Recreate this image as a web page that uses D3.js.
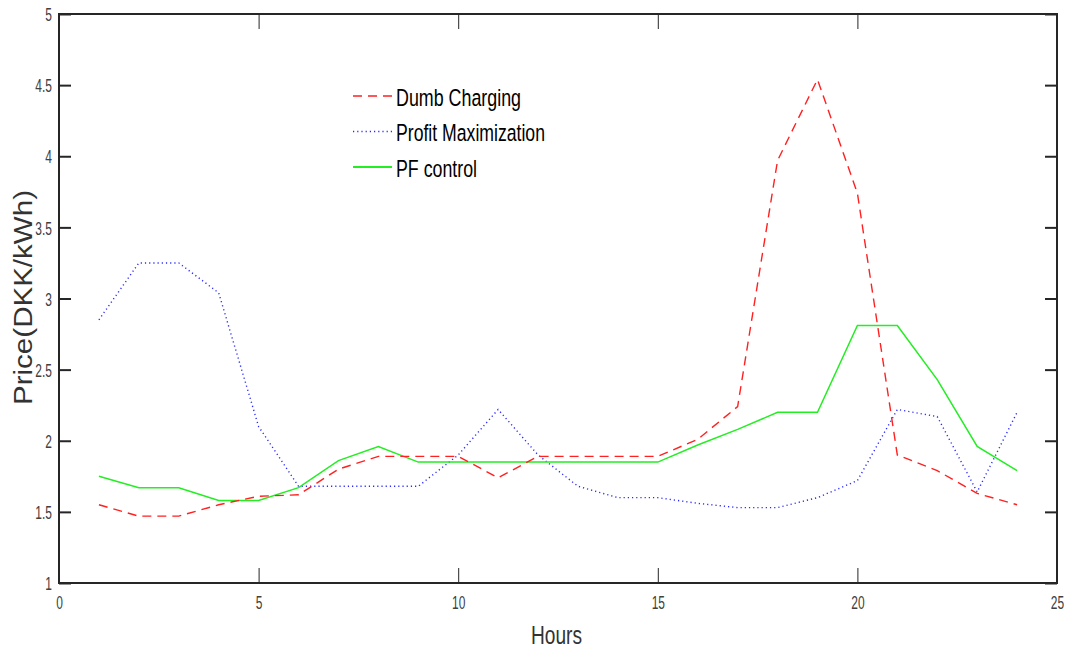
<!DOCTYPE html>
<html>
<head>
<meta charset="utf-8">
<script src="https://cdn.jsdelivr.net/npm/d3@7"></script>
<style>
  body { margin: 0; background: #fff; }
  svg { display: block; font-family: "Liberation Sans", Arial, sans-serif; }
</style>
</head>
<body>
<svg width="1068" height="651"></svg>
<script>
var hours = [1, 2, 3, 4, 5, 6, 7, 8, 9, 10, 11, 12, 13, 14, 15, 16, 17, 18, 19, 20, 21, 22, 23, 24];
var dumb = [1.55, 1.47, 1.47, 1.55, 1.61, 1.62, 1.80, 1.89, 1.89, 1.89, 1.74, 1.89, 1.89, 1.89, 1.89, 2.01, 2.24, 3.97, 4.54, 3.74, 1.90, 1.79, 1.63, 1.55];
var profit = [2.85, 3.25, 3.25, 3.04, 2.10, 1.68, 1.68, 1.68, 1.68, 1.90, 2.22, 1.90, 1.68, 1.60, 1.60, 1.56, 1.53, 1.53, 1.60, 1.72, 2.22, 2.17, 1.64, 2.20];
var pf = [1.75, 1.67, 1.67, 1.58, 1.58, 1.67, 1.86, 1.96, 1.85, 1.85, 1.85, 1.85, 1.85, 1.85, 1.85, 1.97, 2.08, 2.20, 2.20, 2.81, 2.81, 2.43, 1.96, 1.79];
var xTicks = [0, 5, 10, 15, 20, 25];
var yTicks = [1, 1.5, 2, 2.5, 3, 3.5, 4, 4.5, 5];
var seriesNames = ["Dumb Charging", "Profit Maximization", "PF control"];

var svg = d3.select("svg");
var plotL = 59, plotR = 1057, plotT = 14, plotB = 583;

var x = d3.scaleLinear().domain([0, 25]).range([plotL, plotR]);
var y = d3.scaleLinear().domain([1, 5]).range([plotB, plotT]);

// squeeze text horizontally, the source figure uses a narrow face
function squeeze(sel, k) {
  sel.each(function() {
    var w = this.getComputedTextLength();
    d3.select(this).attr("textLength", w * k).attr("lengthAdjust", "spacingAndGlyphs");
  });
}

// ---- axes ----
var axisColor = "#262626";

var xb = svg.append("g").attr("transform", "translate(0," + plotB + ")")
  .call(d3.axisBottom(x).tickValues(xTicks).tickSize(-15).tickPadding(0).tickFormat(d3.format("d")));
var xt = svg.append("g").attr("transform", "translate(0," + plotT + ")")
  .call(d3.axisTop(x).tickValues(xTicks).tickSize(-15).tickFormat(""));
var yl = svg.append("g").attr("transform", "translate(" + plotL + ",0)")
  .call(d3.axisLeft(y).tickValues(yTicks).tickSize(-12).tickFormat(d3.format("")));
var yr = svg.append("g").attr("transform", "translate(" + plotR + ",0)")
  .call(d3.axisRight(y).tickValues(yTicks).tickSize(-12).tickFormat(""));

[xb, xt, yl, yr].forEach(function(g) {
  g.select(".domain").remove();
  g.attr("font-size", 19).attr("font-family", null);
  g.selectAll(".tick line").attr("stroke", axisColor);
});
xb.selectAll(".tick line").attr("stroke-width", 1);
xt.selectAll(".tick line").attr("stroke-width", 1);
yl.selectAll(".tick line").attr("stroke-width", 2);
yr.selectAll(".tick line").attr("stroke-width", 2);

xb.selectAll(".tick text").attr("fill", "#404040").attr("dy", null).attr("y", 26);
yl.selectAll(".tick text").attr("fill", "#404040").attr("dy", "0.35em");
squeeze(xb.selectAll(".tick text"), 0.63);
squeeze(yl.selectAll(".tick text"), 0.63);
// textLength runs from the start, so re-place the labels by hand
xb.selectAll(".tick text").attr("text-anchor", "start")
  .attr("x", function() { return -this.getAttribute("textLength") / 2; });
yl.selectAll(".tick text").attr("text-anchor", "start")
  .attr("x", function() { return -7 - this.getAttribute("textLength"); });

// box
svg.append("rect")
  .attr("x", plotL).attr("y", plotT)
  .attr("width", plotR - plotL).attr("height", plotB - plotT)
  .attr("fill", "none").attr("stroke", axisColor).attr("stroke-width", 2);

// ---- lines ----
var line = function(vals) {
  return d3.line().x(function(d, i) { return x(hours[i]); }).y(function(d) { return y(d); })(vals);
};

svg.append("path").attr("d", line(profit))
  .attr("fill", "none").attr("stroke", "#2a2aff").attr("stroke-width", 1.4).attr("stroke-dasharray", "1.2,3");
svg.append("path").attr("d", line(pf))
  .attr("fill", "none").attr("stroke", "#22ee22").attr("stroke-width", 1.5);
svg.append("path").attr("d", line(dumb))
  .attr("fill", "none").attr("stroke", "#ff2020").attr("stroke-width", 1.4).attr("stroke-dasharray", "9,6");

// ---- legend ----
var legStyles = [
  { color: "#ff2020", dash: "9,6", w: 1.4 },
  { color: "#2a2aff", dash: "1.2,3", w: 1.4 },
  { color: "#22ee22", dash: null, w: 1.8 }
];
var legLens = [125, 149, 81];
var leg = svg.append("g");
seriesNames.forEach(function(name, i) {
  var cy = 96 + i * 35.5;
  leg.append("line")
    .attr("x1", 353).attr("x2", 392).attr("y1", cy).attr("y2", cy)
    .attr("stroke", legStyles[i].color).attr("stroke-width", legStyles[i].w)
    .attr("stroke-dasharray", legStyles[i].dash);
  leg.append("text")
    .attr("x", 396).attr("y", cy + 9.5)
    .attr("font-size", 24.5).attr("fill", "#000")
    .attr("textLength", legLens[i]).attr("lengthAdjust", "spacingAndGlyphs")
    .text(name);
});

// ---- axis titles ----
svg.append("text")
  .attr("x", 531).attr("y", 644)
  .attr("font-size", 26).attr("fill", "#333")
  .attr("textLength", 51).attr("lengthAdjust", "spacingAndGlyphs")
  .text("Hours");

svg.append("text")
  .attr("transform", "translate(32,405) rotate(-90)")
  .attr("font-size", 26).attr("fill", "#333")
  .attr("textLength", 215).attr("lengthAdjust", "spacingAndGlyphs")
  .text("Price(DKK/kWh)");
</script>
</body>
</html>
